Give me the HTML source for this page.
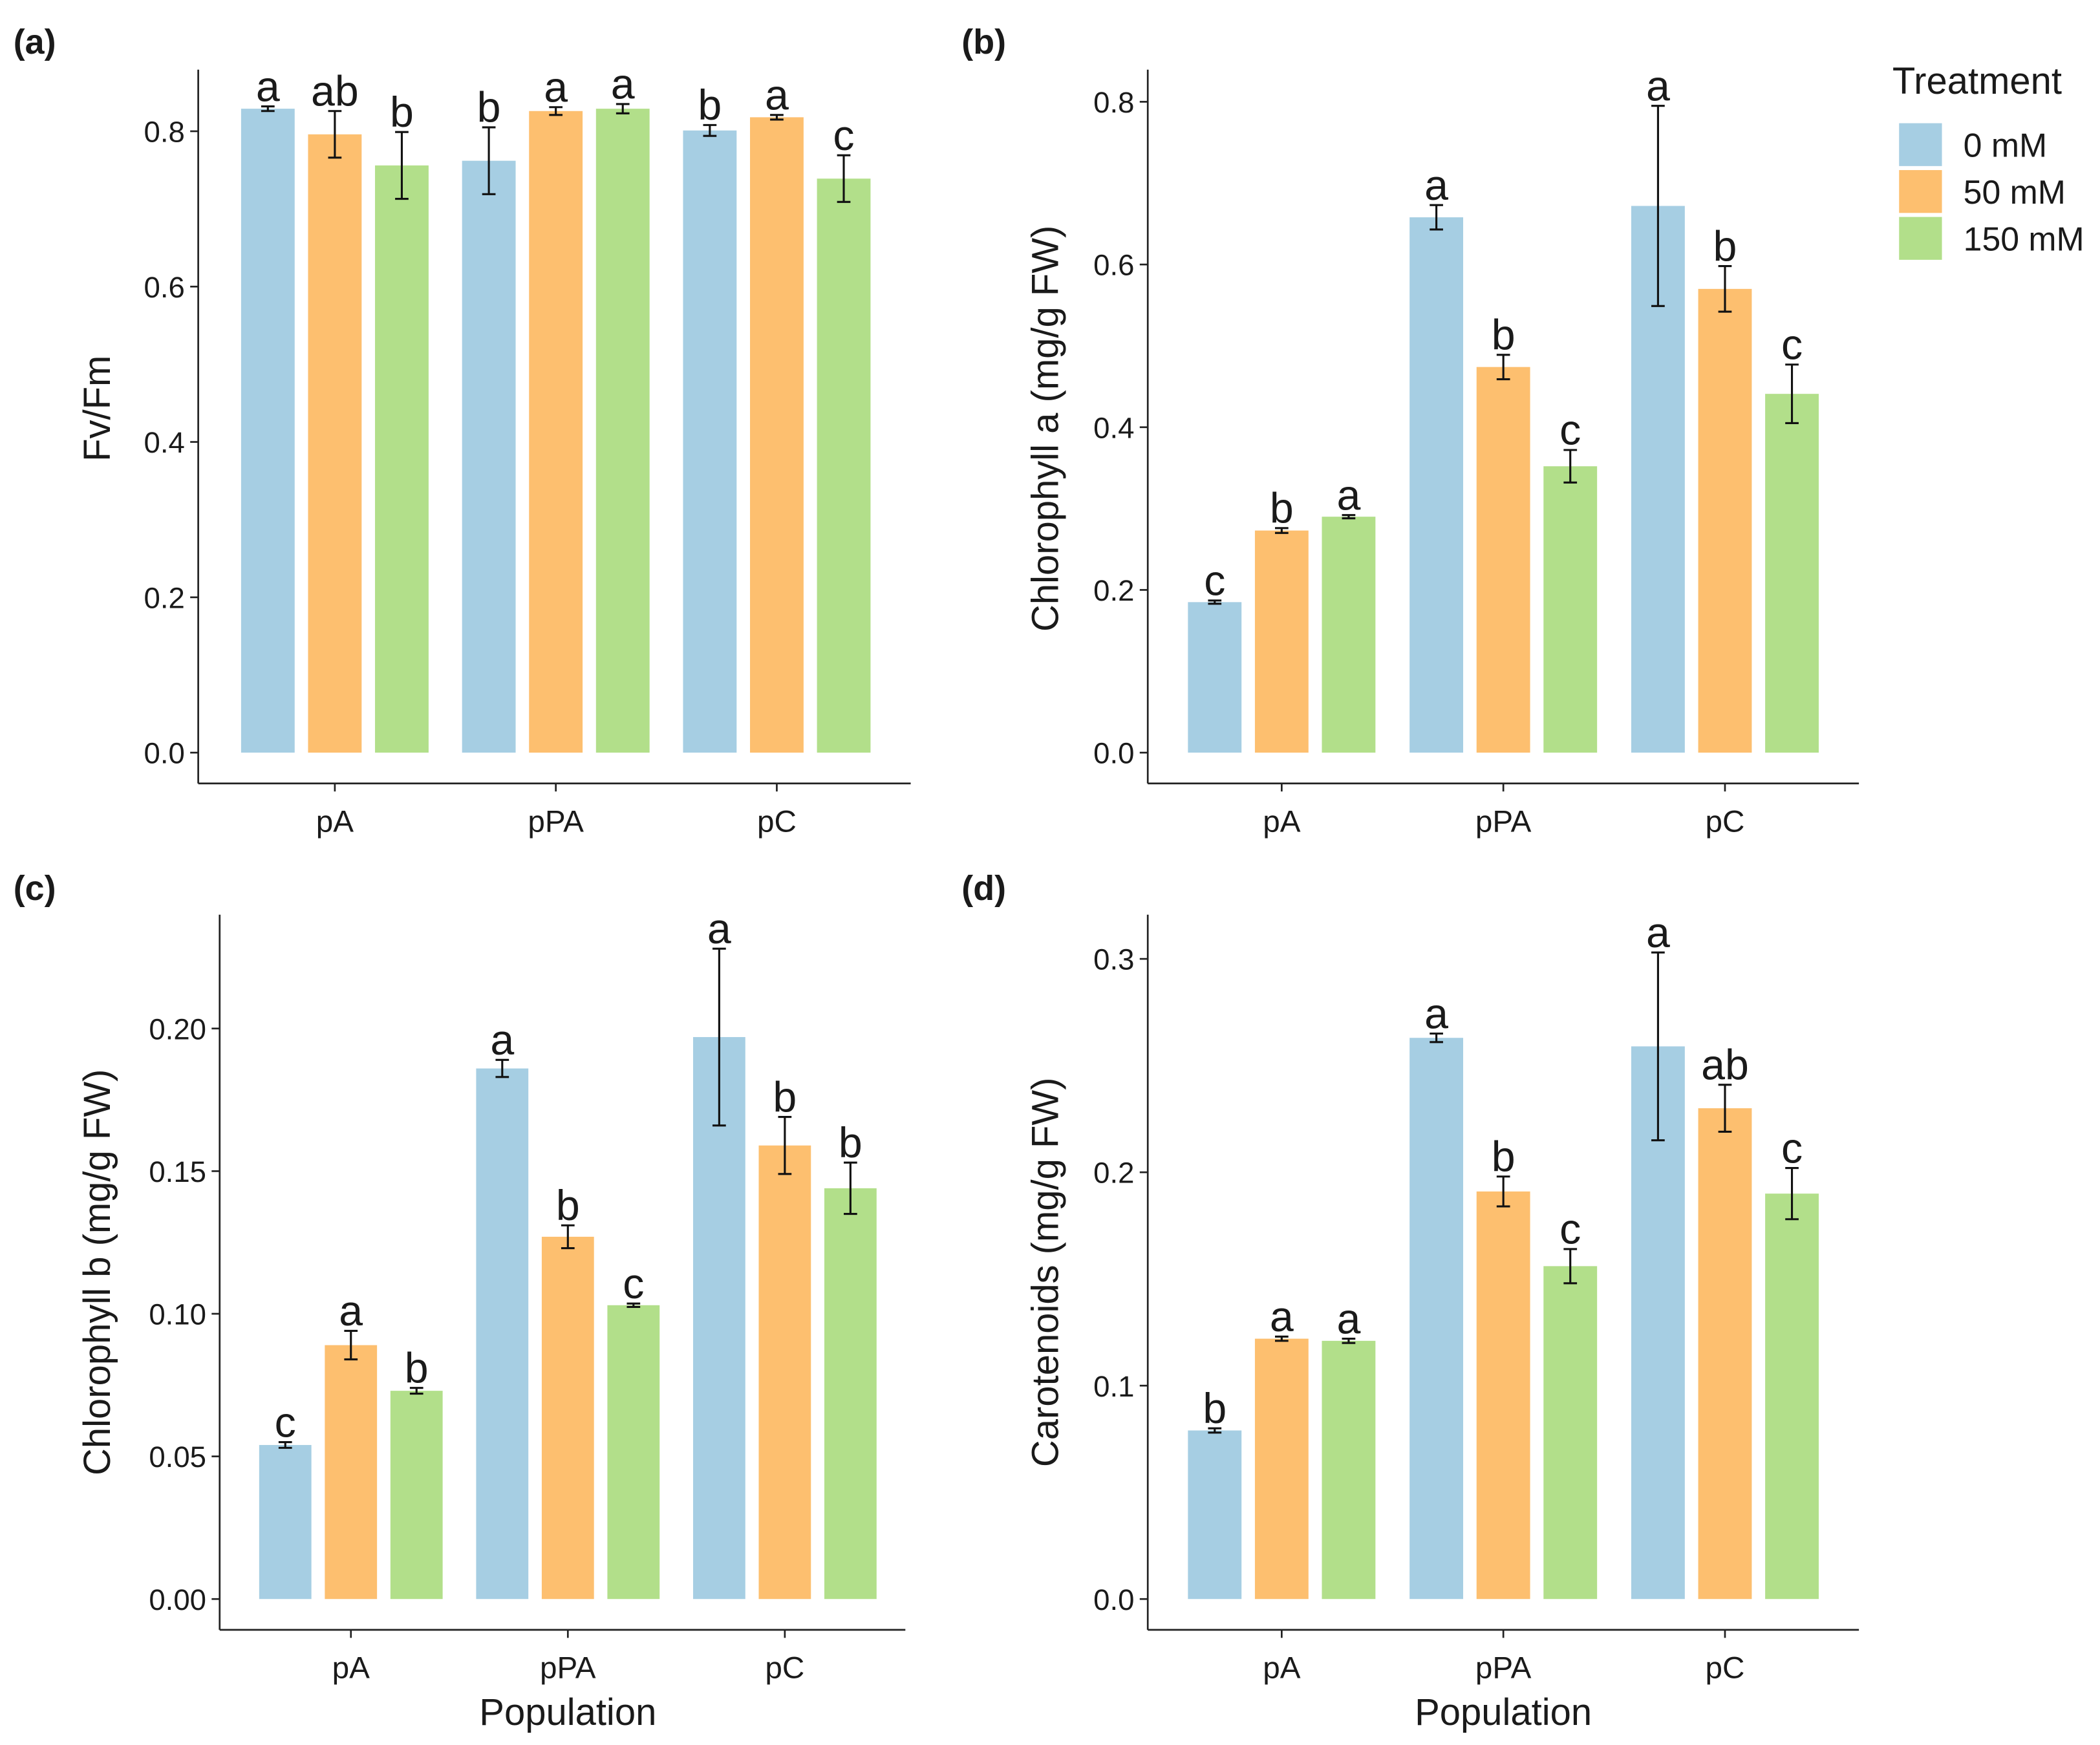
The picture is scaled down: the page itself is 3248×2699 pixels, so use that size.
<!DOCTYPE html>
<html><head><meta charset="utf-8"><style>
html,body{margin:0;padding:0;background:#fff}
svg{display:block}
text{font-family:"Liberation Sans","DejaVu Sans",sans-serif;fill:#1a1a1a}
</style></head><body>
<svg id="fig" width="3248" height="2699" viewBox="0 0 1568 1303" xmlns="http://www.w3.org/2000/svg"></svg>
<script>
const categories = ["pA","pPA","pC"];
const treatments = ["0 mM","50 mM","150 mM"];
const colors = ["#a6cee3","#fdbf6f","#b2df8a"];

const fvfmValues = [[0.829,0.796,0.756],[0.762,0.826,0.829],[0.801,0.818,0.739]];
const fvfmErrors = [[0.003,0.030,0.043],[0.043,0.005,0.006],[0.007,0.003,0.030]];
const fvfmLetters = [["a","ab","b"],["b","a","a"],["b","a","c"]];
const fvfmTicks = [0,0.2,0.4,0.6,0.8];
const fvfmTickLabels = ["0.0","0.2","0.4","0.6","0.8"];

const chlaValues = [[0.185,0.273,0.290],[0.658,0.474,0.352],[0.672,0.570,0.441]];
const chlaErrors = [[0.002,0.003,0.002],[0.015,0.015,0.020],[0.123,0.028,0.036]];
const chlaLetters = [["c","b","a"],["a","b","c"],["a","b","c"]];
const chlaTicks = [0,0.2,0.4,0.6,0.8];
const chlaTickLabels = ["0.0","0.2","0.4","0.6","0.8"];

const chlbValues = [[0.054,0.089,0.073],[0.186,0.127,0.103],[0.197,0.159,0.144]];
const chlbErrors = [[0.001,0.005,0.001],[0.003,0.004,0.0006],[0.031,0.010,0.009]];
const chlbLetters = [["c","a","b"],["a","b","c"],["a","b","b"]];
const chlbTicks = [0,0.05,0.10,0.15,0.20];
const chlbTickLabels = ["0.00","0.05","0.10","0.15","0.20"];

const carValues = [[0.079,0.122,0.121],[0.263,0.191,0.156],[0.259,0.230,0.190]];
const carErrors = [[0.001,0.001,0.001],[0.002,0.007,0.008],[0.044,0.011,0.012]];
const carLetters = [["b","a","a"],["a","b","c"],["a","ab","c"]];
const carTicks = [0,0.1,0.2,0.3];
const carTickLabels = ["0.0","0.1","0.2","0.3"];

const NS="http://www.w3.org/2000/svg";
const svg=document.getElementById('fig');
function mk(tag,attrs,parent){const e=document.createElementNS(NS,tag);for(const k in attrs)e.setAttribute(k,attrs[k]);(parent||svg).appendChild(e);return e;}

function panel(cfg){
  const g=mk('g',{});
  
  
  const y=v=>cfg.y0-(v/cfg.vmax)*(cfg.y0-cfg.yTop);
  const groupX=i=>cfg.gx0+i*cfg.gstep;
  const ax=mk('line',{x1:cfg.ax,y1:cfg.axTop,x2:cfg.ax,y2:cfg.xaxY,stroke:'#222','stroke-width':1.3},g);
  
  
  const xx=mk('line',{x1:cfg.ax,y1:cfg.xaxY,x2:cfg.axRight,y2:cfg.xaxY,stroke:'#222','stroke-width':1.3},g);
  
  
  cfg.ticks.forEach((t,i)=>{
    mk('line',{x1:cfg.ax-6,x2:cfg.ax,y1:y(t),y2:y(t),stroke:'#222','stroke-width':1.3},g);
    const tl=mk('text',{x:cfg.ax-10,y:y(t)+8,'text-anchor':'end','font-size':22,fill:'#444'},g);
    tl.textContent=cfg.tickLabels[i];
    
    
  });
  categories.forEach((c,i)=>{
    mk('line',{x1:groupX(i),x2:groupX(i),y1:cfg.xaxY,y2:cfg.xaxY+6,stroke:'#222','stroke-width':1.3},g);
    const cl=mk('text',{x:groupX(i),y:cfg.xaxY+36,'text-anchor':'middle','font-size':23,fill:'#444'},g);
    cl.textContent=c;
    
    
    for(let j=0;j<3;j++){
      const cx=groupX(i)+(j-1)*cfg.bstep;
      const v=cfg.values[i][j], e=cfg.errors[i][j];
      const r=mk('rect',{x:cx-cfg.bw/2,y:y(v),width:cfg.bw,height:cfg.y0-y(v),fill:colors[j]},g);
      
      
      const eb=mk('path',{d:`M${cx-5},${y(v+e)}H${cx+5}M${cx},${y(v+e)}V${y(v-e)}M${cx-5},${y(v-e)}H${cx+5}`,stroke:'#111','stroke-width':1.5,fill:'none'},g);
      
      
      const lt=mk('text',{x:cx,y:y(v+e)-4,'text-anchor':'middle','font-size':32},g);
      lt.textContent=cfg.letters[i][j];
      
      
    }
  });
  const yt=mk('text',{x:0,y:0,'text-anchor':'middle','font-size':28,transform:`translate(${cfg.ytX},${cfg.ytY}) rotate(-90)`},g);
  yt.textContent=cfg.ytitle;
  
  
  const pl=mk('text',{x:cfg.plX,y:cfg.plY,'font-size':26,'font-weight':'bold'},g);
  pl.textContent=cfg.label;
  
  
  if(cfg.xtitle){
    const xt=mk('text',{x:groupX(1),y:cfg.xaxY+71,'text-anchor':'middle','font-size':28},g);
    xt.textContent=cfg.xtitle;
    
    
  }
}

panel({name:'panel-a-fvfm',values:fvfmValues,errors:fvfmErrors,letters:fvfmLetters,ticks:fvfmTicks,tickLabels:fvfmTickLabels,
  vmax:0.8,y0:562,yTop:98,ax:148,axTop:52,axRight:680,xaxY:585,gx0:250,gstep:165,bstep:50,bw:40,
  ytitle:'Fv/Fm',ytX:82,ytY:305,label:'(a)',plX:10,plY:40});
panel({name:'panel-b-chlorophyll-a',values:chlaValues,errors:chlaErrors,letters:chlaLetters,ticks:chlaTicks,tickLabels:chlaTickLabels,
  vmax:0.8,y0:562,yTop:76,ax:857,axTop:52,axRight:1388,xaxY:585,gx0:957,gstep:165.5,bstep:50,bw:40,
  ytitle:'Chlorophyll a (mg/g FW)',ytX:790,ytY:320,label:'(b)',plX:718,plY:40});
panel({name:'panel-c-chlorophyll-b',values:chlbValues,errors:chlbErrors,letters:chlbLetters,ticks:chlbTicks,tickLabels:chlbTickLabels,
  vmax:0.2,y0:1194,yTop:768,ax:164,axTop:683,axRight:676,xaxY:1217,gx0:262,gstep:162,bstep:49,bw:39,
  ytitle:'Chlorophyll b (mg/g FW)',ytX:82,ytY:950,label:'(c)',plX:10,plY:672,xtitle:'Population'});
panel({name:'panel-d-carotenoids',values:carValues,errors:carErrors,letters:carLetters,ticks:carTicks,tickLabels:carTickLabels,
  vmax:0.3,y0:1194,yTop:716,ax:857,axTop:683,axRight:1388,xaxY:1217,gx0:957,gstep:165.5,bstep:50,bw:40,
  ytitle:'Carotenoids (mg/g FW)',ytX:790,ytY:950,label:'(d)',plX:718,plY:672,xtitle:'Population'});

const lg=mk('g',{});


const lt=mk('text',{x:1413,y:70,'font-size':28},lg);
lt.textContent='Treatment';


treatments.forEach((t,j)=>{
  const yy=92+j*35;
  const sw=mk('rect',{x:1418,y:yy,width:32,height:32,fill:colors[j]},lg);
  
  
  const tx=mk('text',{x:1466,y:yy+25,'font-size':25},lg);
  tx.textContent=t;
  
  
});
</script>
</body></html>
